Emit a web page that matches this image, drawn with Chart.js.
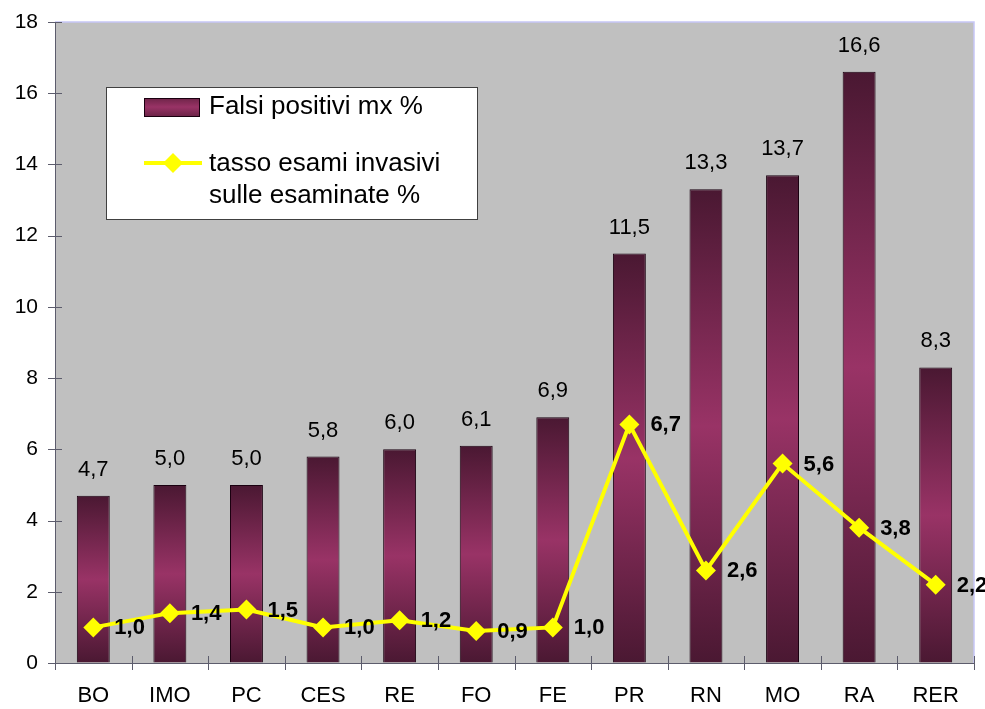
<!DOCTYPE html>
<html>
<head>
<meta charset="utf-8">
<script src="https://cdn.jsdelivr.net/npm/chart.js@4.4.0/dist/chart.umd.min.js"></script>
<style>
	body { margin: 0; background: #ffffff; }
	#wrap { width: 985px; height: 709px; }
</style>
</head>
<body>
<div id="wrap"><canvas id="chart_falsi_positivi" width="985" height="709"></canvas></div>
<script>
var categorie = ['BO', 'IMO', 'PC', 'CES', 'RE', 'FO', 'FE', 'PR', 'RN', 'MO', 'RA', 'RER'];
var falsiPositivi = [4.7, 5.0, 5.0, 5.8, 6.0, 6.1, 6.9, 11.5, 13.3, 13.7, 16.6, 8.3];
var tassoInvasivi = [1.0, 1.4, 1.5, 1.0, 1.2, 0.9, 1.0, 6.7, 2.6, 5.6, 3.8, 2.2];
var labelBarre = 'Falsi positivi mx %';
var labelLinea = ['tasso esami invasivi', 'sulle esaminate %'];
var yMin = 0, yMax = 18, yStep = 2;

var FONT = "'Liberation Sans', Arial, sans-serif";
var COL_SCURO = '#4a1832';
var COL_ROSA = '#993366';
var COL_ASSE = '#5c5c6c';

function formatVirgola(v) {
	return v.toFixed(1).replace('.', ',');
}

var grafico = {
	// sfondo grigio + bordo lilla sopra e a destra
	sfondo: {
		id: 'sfondo',
		beforeDraw: function (chart) {
			var a = chart.chartArea, ctx = chart.ctx;
			ctx.save();
			ctx.fillStyle = '#c0c0c0';
			ctx.fillRect(a.left, a.top, a.right - a.left, a.bottom - a.top);
			ctx.strokeStyle = '#c6c6f6';
			ctx.lineWidth = 1.5;
			ctx.beginPath();
			ctx.moveTo(a.left, a.top);
			ctx.lineTo(a.right, a.top);
			ctx.lineTo(a.right, a.bottom);
			ctx.stroke();
			ctx.restore();
		},
		beforeDatasetsDraw: function (chart) {
			// tacche che attraversano gli assi
			var a = chart.chartArea, ctx = chart.ctx;
			var ys = chart.scales.y, xs = chart.scales.x;
			ctx.save();
			ctx.strokeStyle = COL_ASSE;
			ctx.lineWidth = 1;
			ctx.beginPath();
			for (var v = yMin; v <= yMax; v += yStep) {
				var y = Math.round(ys.getPixelForValue(v)) + 0.5;
				ctx.moveTo(a.left - 7, y);
				ctx.lineTo(a.left + 7, y);
			}
			var passo = xs.getPixelForValue(1) - xs.getPixelForValue(0);
			for (var i = 0; i <= categorie.length; i++) {
				var x = Math.round(xs.getPixelForValue(i) - passo / 2) + 0.5;
				ctx.moveTo(x, a.bottom - 7);
				ctx.lineTo(x, a.bottom + 7);
			}
			ctx.stroke();
			ctx.restore();
		}
	},

	etichette: {
		id: 'etichette',
		afterDatasetsDraw: function (chart) {
			var ctx = chart.ctx;
			ctx.save();
			ctx.fillStyle = '#000000';

			ctx.font = '22px ' + FONT;
			ctx.textAlign = 'center';
			ctx.textBaseline = 'middle';
			chart.getDatasetMeta(1).data.forEach(function (el, i) {
				ctx.fillText(formatVirgola(falsiPositivi[i]), el.x, el.y - 26);
			});

			ctx.font = 'bold 22px ' + FONT;
			ctx.textAlign = 'left';
			chart.getDatasetMeta(0).data.forEach(function (el, i) {
				ctx.fillText(formatVirgola(tassoInvasivi[i]), el.x + 21, el.y + 1);
			});
			ctx.restore();
		}
	},

	legenda: {
		id: 'legenda',
		afterDraw: function (chart) {
			var ctx = chart.ctx;
			ctx.save();
			ctx.fillStyle = '#ffffff';
			ctx.fillRect(106, 87, 371, 132);
			ctx.strokeStyle = '#404040';
			ctx.lineWidth = 1;
			ctx.strokeRect(106.5, 87.5, 371, 132);

			// campione barra
			var g = ctx.createLinearGradient(0, 98, 0, 116);
			g.addColorStop(0, '#6e2448');
			g.addColorStop(0.5, COL_ROSA);
			g.addColorStop(1, '#6e2448');
			ctx.fillStyle = g;
			ctx.fillRect(144, 98, 55, 18);
			ctx.strokeStyle = '#1a0010';
			ctx.strokeRect(144.5, 98.5, 55, 18);

			// campione linea
			ctx.strokeStyle = '#ffff00';
			ctx.lineWidth = 4;
			ctx.beginPath();
			ctx.moveTo(144, 163);
			ctx.lineTo(202, 163);
			ctx.stroke();
			ctx.fillStyle = '#ffff00';
			ctx.beginPath();
			ctx.moveTo(173, 153);
			ctx.lineTo(183, 163);
			ctx.lineTo(173, 173);
			ctx.lineTo(163, 163);
			ctx.closePath();
			ctx.fill();

			ctx.fillStyle = '#000000';
			ctx.font = '26px ' + FONT;
			ctx.textAlign = 'left';
			ctx.textBaseline = 'middle';
			ctx.fillText(labelBarre, 209, 107);
			ctx.fillText(labelLinea[0], 209, 164);
			ctx.fillText(labelLinea[1], 209, 196);
			ctx.restore();
		}
	},

	coloreBarra: function (context) {
		var chart = context.chart;
		if (!chart.chartArea || context.type !== 'data') return COL_ROSA;
		var ys = chart.scales.y;
		var top = ys.getPixelForValue(falsiPositivi[context.dataIndex]);
		var base = ys.getPixelForValue(0);
		var g = chart.ctx.createLinearGradient(0, top, 0, base);
		g.addColorStop(0, COL_SCURO);
		g.addColorStop(0.5, COL_ROSA);
		g.addColorStop(1, COL_SCURO);
		return g;
	},

	disegna: function () {
		new Chart('chart_falsi_positivi', {
			data: {
				labels: categorie,
				datasets: [
					{
						type: 'line',
						label: labelLinea.join(' '),
						data: tassoInvasivi,
						order: 1,
						borderColor: '#ffff00',
						backgroundColor: '#ffff00',
						borderWidth: 4,
						pointStyle: 'rectRot',
						pointRadius: 10,
						pointBorderWidth: 0,
						tension: 0
					},
					{
						type: 'bar',
						label: labelBarre,
						data: falsiPositivi,
						order: 2,
						backgroundColor: grafico.coloreBarra,
						borderColor: '#1a0010',
						borderWidth: 1,
						categoryPercentage: 1,
						barPercentage: 0.43
					}
				]
			},
			options: {
				responsive: false,
				animation: false,
				layout: { padding: { top: 22, right: 11, left: 0, bottom: 0 } },
				plugins: {
					legend: { display: false },
					tooltip: { enabled: false }
				},
				scales: {
					x: {
						offset: true,
						afterFit: function (scale) { scale.height = 46; },
						grid: { display: true, drawOnChartArea: false, drawTicks: false },
						border: { display: true, color: COL_ASSE, width: 1 },
						ticks: { color: '#000000', padding: 20, font: { family: FONT, size: 22 } }
					},
					y: {
						min: yMin,
						max: yMax,
						afterFit: function (scale) {
							scale.width = 55;
							// niente spazio extra sopra: l'area parte dal padding del layout
							scale.paddingTop = 0;
						},
						grid: { display: true, drawOnChartArea: false, drawTicks: false },
						border: { display: true, color: COL_ASSE, width: 1 },
						ticks: { stepSize: yStep, color: '#000000', padding: 17, font: { family: FONT, size: 21 } }
					}
				}
			},
			plugins: [grafico.sfondo, grafico.etichette, grafico.legenda]
		});
	}
};

grafico.disegna();
</script>
</body>
</html>
